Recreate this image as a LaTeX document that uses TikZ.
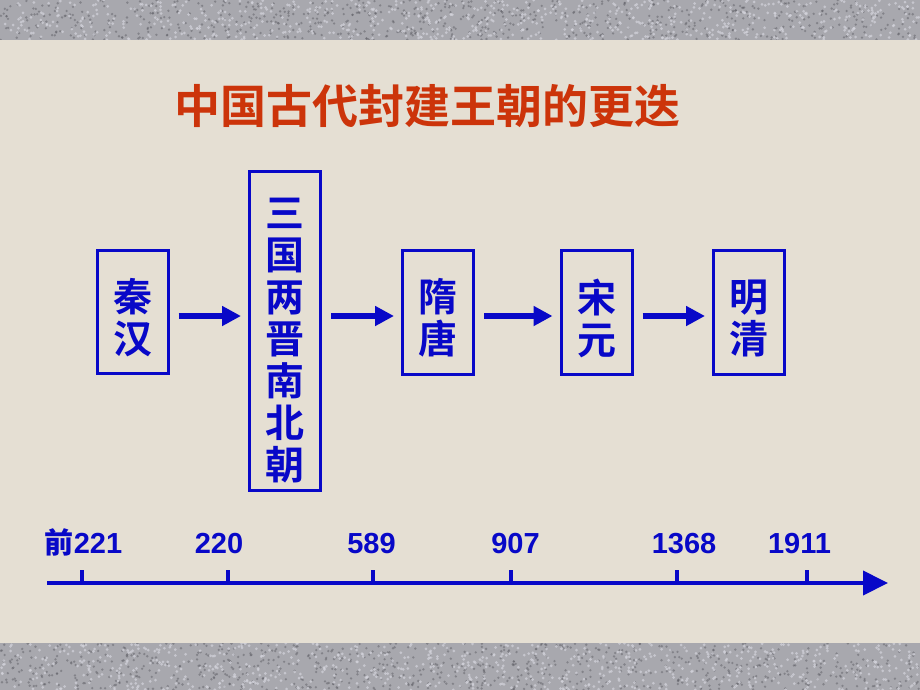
\documentclass[tikz,border=0pt]{standalone}
\usepackage{fontspec}
\setmainfont{Liberation Sans}
\newfontfamily\cjk{Noto Sans CJK SC Bold}
\usetikzlibrary{arrows.meta}
\definecolor{dynblue}{RGB}{8,8,200}
\definecolor{titlered}{RGB}{204,52,10}
\definecolor{beige}{RGB}{229,223,211}
\definecolor{granite}{RGB}{168,168,174}
\definecolor{granitedark}{RGB}{95,95,102}
\definecolor{granitelight}{RGB}{212,212,220}
\tikzset{
  dynbox/.style={draw=dynblue, line width=3pt, minimum width=71pt, inner sep=0pt},
  boxtext/.style={text=dynblue, align=center, inner sep=0pt,
    font=\cjk\fontsize{39}{42}\selectfont},
  flow/.style={draw=dynblue, line width=6pt, -{Triangle[length=19pt,width=19pt]},
    shorten <=9pt, shorten >=7pt},
  axis/.style={draw=dynblue, line width=4pt, -{Triangle[length=25pt,width=24pt]}},
  tick/.style={draw=dynblue, line width=4pt},
  year/.style={text=dynblue, anchor=base, font=\bfseries\fontsize{29}{29}\selectfont, inner sep=0pt},
  titletext/.style={text=titlered, font=\cjk\fontsize{46}{46}\selectfont, inner sep=0pt}
}
\begin{document}
\begin{tikzpicture}[x=1pt,y=-1pt]
\useasboundingbox (0,0) rectangle (920,690);
% background
\fill[granite] (0,0) rectangle (920,690);
\pgfmathsetseed{7}
\foreach \i in {1,...,1500}{
  \pgfmathsetmacro{\rx}{920*rnd}
  \pgfmathsetmacro{\ry}{rnd<0.47 ? 40*rnd : 643+47*rnd}
  \fill[granitedark,opacity=0.5] (\rx,\ry) circle (1.3pt);
}
\foreach \i in {1,...,1500}{
  \pgfmathsetmacro{\rx}{920*rnd}
  \pgfmathsetmacro{\ry}{rnd<0.47 ? 40*rnd : 643+47*rnd}
  \fill[granitelight,opacity=0.7] (\rx,\ry) circle (1.5pt);
}
\fill[beige] (0,40) rectangle (920,643);

% title
\node[titletext] (title) at (427,106) {中国古代封建王朝的更迭};

% dynasty boxes
\node[dynbox, minimum height=123pt,
  label={[boxtext, yshift=-6pt]center:{秦\\汉}}] (qinhan) at (132.5,311.5) {};
\node[dynbox, minimum height=319pt,
  label={[boxtext, yshift=-10pt]center:{三\\国\\两\\晋\\南\\北\\朝}}] (sanguo) at (285,330.5) {};
\node[dynbox, minimum height=124pt,
  label={[boxtext, yshift=-6pt]center:{隋\\唐}}] (suitang) at (438,312) {};
\node[dynbox, minimum height=124pt,
  label={[boxtext, yshift=-6pt]center:{宋\\元}}] (songyuan) at (596.5,312) {};
\node[dynbox, minimum height=124pt,
  label={[boxtext, yshift=-6pt]center:{明\\清}}] (mingqing) at (749,312) {};

% flow arrows
\draw[flow] ([yshift=-4.5pt]qinhan.east) -- ([yshift=-4.5pt]qinhan.east -| sanguo.west);
\draw[flow] ([yshift=-4pt]suitang.west -| sanguo.east) -- ([yshift=-4pt]suitang.west);
\draw[flow] ([yshift=-4pt]suitang.east) -- ([yshift=-4pt]songyuan.west);
\draw[flow] ([yshift=-4pt]songyuan.east) -- ([yshift=-4pt]mingqing.west);

% timeline
\coordinate (axstart) at (47,583);
\coordinate (axend) at (888,583);
\draw[axis] (axstart) -- (axend);
\foreach \n/\x in {t1/82, t2/228, t3/373, t4/511, t5/677, t6/807}{
  \coordinate (\n) at (\x,583);
  \draw[tick] (\n) -- ++(0,-13);
}
\node[year] (y1) at (83.5,553) {{\cjk 前}221};
\node[year] (y2) at (219,553) {220};
\node[year] (y3) at (371.5,553) {589};
\node[year] (y4) at (515.5,553) {907};
\node[year] (y5) at (684,553) {1368};
\node[year] (y6) at (799.5,553) {1911};
\end{tikzpicture}
\end{document}
